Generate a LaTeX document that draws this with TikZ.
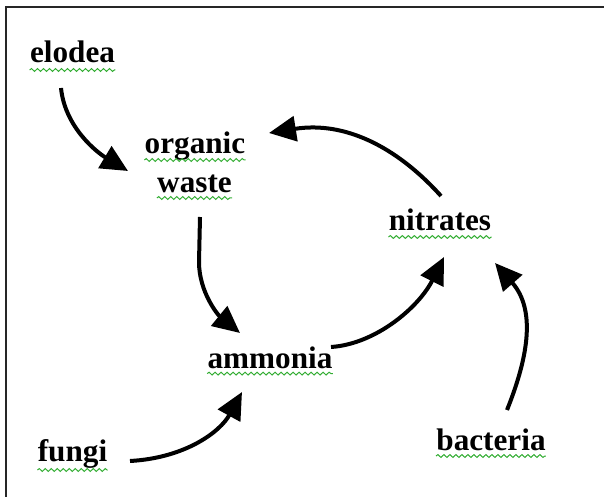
\documentclass[tikz,border=0pt]{standalone}
\usepackage{fontspec}
\setmainfont{Liberation Serif}
\usetikzlibrary{arrows.meta,calc,decorations.pathmorphing}

\tikzset{
  word/.style={font=\fontsize{15.6}{18}\selectfont\bfseries, inner sep=0pt, anchor=base},
  flow/.style={line width=2pt, -{Triangle[length=13.5pt,width=12.5pt]}},
  wavy/.style={draw=green!60!black!80, line width=0.5pt, decorate,
    decoration={snake, segment length=3pt, amplitude=0.7pt}}
}

\begin{document}
\begin{tikzpicture}[x=0.5pt,y=-0.5pt]

\path[use as bounding box, clip] (0,0) rectangle (604,497);
\draw[line width=1pt, black!85] (6,7) rectangle (650,550);

\node[word] (elodea) at (72.5,63) {elodea};
\node[word] (organic) at (195,154) {organic};
\node[word] (waste) at (194.5,192) {waste};
\node[word] (nitrates) at (440,230) {nitrates};
\node[word] (ammonia) at (270,368) {ammonia};
\node[word] (fungi) at (72.5,461) {fungi};
\node[word] (bacteria) at (491,450) {bacteria};

% spelling marks
\draw[wavy] ([yshift=-3.5pt]elodea.base west) -- ([yshift=-3.5pt]elodea.base east);
\draw[wavy] ([yshift=-3pt]organic.base west) -- ([yshift=-3pt]organic.base east);
\draw[wavy] ([yshift=-3pt]waste.base west) -- ([yshift=-3pt]waste.base east);
\draw[wavy] ([yshift=-3.5pt]nitrates.base west) -- ([yshift=-3.5pt]nitrates.base east);
\draw[wavy] ([yshift=-2.8pt]ammonia.base west) -- ([yshift=-2.8pt]ammonia.base east);
\draw[wavy] ([yshift=-4.5pt]fungi.base west) -- ([yshift=-4.5pt]fungi.base east);
\draw[wavy] ([yshift=-3pt]bacteria.base west) -- ([yshift=-3pt]bacteria.base east);

% the cycle
\draw[flow] ($(elodea.base)+(-11.5,25)$) .. controls +(4,40) and +(-30,-18) .. ($(organic.base)+(-67,17)$);
\draw[flow] ($(waste.base)+(5.5,25)$) -- ++(-1,45) .. controls +(0,30) and +(-22,-18) .. ($(ammonia.base)+(-30,-35)$);
\draw[flow] ($(ammonia.base)+(61,-21)$) .. controls +(45,-3) and +(-25,50) .. ($(nitrates.base)+(4,27)$);
\draw[flow] ($(bacteria.base)+(16,-40)$) .. controls +(20,-50) and +(42,48) .. ($(nitrates.base)+(55,33)$);
\draw[flow] ($(fungi.base)+(57.5,0)$) .. controls +(55,-3) and +(-22,40) .. ($(ammonia.base)+(-28,24)$);
\draw[flow] ($(nitrates.base)+(1,-34)$) .. controls +(-45,-50) and +(75,-12) .. ($(organic.base)+(74,-21)$);

\end{tikzpicture}
\end{document}
